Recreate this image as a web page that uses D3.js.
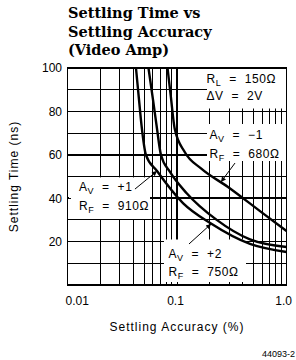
<!DOCTYPE html>
<html>
<head>
<meta charset="utf-8">
<script src="https://cdn.jsdelivr.net/npm/d3@7"></script>
<style>
  body { margin: 0; background: #fff; }
  text { font-family: "Liberation Sans", Arial, sans-serif; fill: #000; }
</style>
</head>
<body>
<div id="chart"></div>
<script>
var width = 296;
var height = 360;
var margin = {top: 68, left: 67.5, right: 9.5, bottom: 75};

// settling accuracy (%) vs settling time (ns)
var accAvPlus1  = [0.0422, 0.045, 0.0474, 0.0521, 0.0657, 0.114, 0.2044, 0.464, 1.0];
var timeAvPlus1 = [100, 85.3, 73.7, 59.9, 52.5, 37.6, 28.3, 18.9, 15.2];
var accAvPlus2  = [0.0549, 0.0604, 0.065, 0.0714, 0.0863, 0.1226, 0.2305, 0.464, 1.0];
var timeAvPlus2 = [100, 85.3, 73.7, 59.9, 52.1, 42.3, 30.0, 21.0, 17.5];
var accAvMinus1  = [0.0819, 0.0876, 0.0953, 0.1176, 0.1667, 0.292, 0.589, 1.0];
var timeAvMinus1 = [100, 87.4, 72.0, 61.3, 53.6, 45.2, 33.6, 24.9];

var xTicks = [0.01, 0.1, 1.0];
var xTickLabels = ["0.01", "0.1", "1.0"];
var yTicks = [20, 40, 60, 80, 100];

var titleLines = ["Settling Time vs", "Settling Accuracy", "(Video Amp)"];

var svg = d3.select("#chart")
  .append("svg")
  .attr("width", width)
  .attr("height", height);

var xScale = d3.scaleLog()
  .domain([0.01, 1])
  .range([margin.left, width - margin.right]);

var yScale = d3.scaleLinear()
  .domain([0, 100])
  .range([height - margin.bottom, margin.top]);

var x0 = xScale.range()[0], x1 = xScale.range()[1];
var y0 = yScale.range()[0], y1 = yScale.range()[1];

// title
svg.append("g").selectAll("text")
  .data(titleLines)
  .enter()
  .append("text")
    .attr("x", 68)
    .attr("y", function(d, i) { return 18 + i * 18.5; })
    .style("font-family", "'DejaVu Serif', serif")
    .style("font-weight", "bold")
    .style("font-size", "14.5px")
    .text(function(d) { return d; });

// grid
var grid = svg.append("g").attr("shape-rendering", "crispEdges").attr("stroke", "#000");
grid.selectAll(".vline")
  .data(xScale.ticks())
  .enter()
  .append("line")
    .attr("x1", function(d) { return xScale(d); })
    .attr("x2", function(d) { return xScale(d); })
    .attr("y1", y0).attr("y2", y1)
    .attr("stroke-width", function(d) { return Math.abs(d - 0.1) < 1e-9 ? 1.6 : 1; });
grid.selectAll(".hline")
  .data(yScale.ticks(10))
  .enter()
  .append("line")
    .attr("x1", x0).attr("x2", x1)
    .attr("y1", function(d) { return yScale(d); })
    .attr("y2", function(d) { return yScale(d); })
    .attr("stroke-width", function(d) { return d % 20 === 0 ? 1.6 : 1; });

// white boxes behind the notes
var boxes = [
  {x: 207, y: 68, w: 80, h: 40.5},
  {x: 207, y: 124, w: 80, h: 37},
  {x: 69, y: 177.4, w: 81, h: 41.6},
  {x: 164, y: 239.5, w: 82, h: 45.5}
];
svg.append("g").selectAll("rect")
  .data(boxes)
  .enter()
  .append("rect")
    .attr("x", function(d) { return d.x; })
    .attr("y", function(d) { return d.y; })
    .attr("width", function(d) { return d.w; })
    .attr("height", function(d) { return d.h; })
    .attr("fill", "#fff");

// frame + small inward ticks
var frame = svg.append("g").attr("shape-rendering", "crispEdges").attr("stroke", "#000");
frame.append("rect")
  .attr("x", x0).attr("y", y1)
  .attr("width", x1 - x0).attr("height", y0 - y1)
  .attr("fill", "none")
  .attr("stroke-width", 1.8);
frame.selectAll(".lt")
  .data(yScale.ticks(10))
  .enter()
  .append("line")
    .attr("x1", x0).attr("x2", x0 + 3)
    .attr("y1", function(d) { return yScale(d); })
    .attr("y2", function(d) { return yScale(d); });
frame.selectAll(".bt")
  .data(xScale.ticks())
  .enter()
  .append("line")
    .attr("x1", function(d) { return xScale(d); })
    .attr("x2", function(d) { return xScale(d); })
    .attr("y1", y0).attr("y2", y0 - 3);

// notes
var notes = [
  {x: 206.5, y: 83,    main: "R", sub: "L", rest: "  =  150\u03A9"},
  {x: 206.5, y: 99.5,  main: "\u0394V", sub: "", rest: "  =  2V"},
  {x: 209.5, y: 139,   main: "A", sub: "V", rest: "  =  \u22121"},
  {x: 209.5, y: 158,   main: "R", sub: "F", rest: "  =  680\u03A9"},
  {x: 79,    y: 191,   main: "A", sub: "V", rest: "  =  +1"},
  {x: 79,    y: 210,   main: "R", sub: "F", rest: "  =  910\u03A9"},
  {x: 168.5, y: 257.5, main: "A", sub: "V", rest: "  =  +2"},
  {x: 168.5, y: 276,   main: "R", sub: "F", rest: "  =  750\u03A9"}
];
notes.forEach(function(n) {
  var t = svg.append("text")
    .attr("x", n.x).attr("y", n.y)
    .style("font-size", "12px")
    .style("letter-spacing", "0.6px")
    .style("white-space", "pre");
  t.append("tspan").text(n.main);
  if (n.sub) {
    t.append("tspan").attr("dy", 3).style("font-size", "9px").text(n.sub);
    t.append("tspan").attr("dy", -3).text(n.rest);
  } else {
    t.append("tspan").text(n.rest);
  }
});

// arrows (data coords: from label to curve)
svg.append("defs").append("marker")
  .attr("id", "arrow")
  .attr("viewBox", "0 0 10 10")
  .attr("refX", 10).attr("refY", 5)
  .attr("markerWidth", 7).attr("markerHeight", 5)
  .attr("markerUnits", "userSpaceOnUse")
  .attr("orient", "auto")
  .append("path")
    .attr("d", "M0,0L10,5L0,10z");

var arrows = [
  {from: [0.0413, 44.2], to: [0.0657, 52.5]},
  {from: [0.3386, 56.2], to: [0.2523, 47.5]},
  {from: [0.1287, 18.9], to: [0.2044, 28.1]}
];
svg.append("g").selectAll("line")
  .data(arrows)
  .enter()
  .append("line")
    .attr("x1", function(d) { return xScale(d.from[0]); })
    .attr("y1", function(d) { return yScale(d.from[1]); })
    .attr("x2", function(d) { return xScale(d.to[0]); })
    .attr("y2", function(d) { return yScale(d.to[1]); })
    .attr("stroke", "#000")
    .attr("stroke-width", 1)
    .attr("marker-end", "url(#arrow)");

// curves
var series = [
  {acc: accAvPlus1, time: timeAvPlus1},
  {acc: accAvPlus2, time: timeAvPlus2},
  {acc: accAvMinus1, time: timeAvMinus1}
];
var line = d3.line()
  .x(function(d) { return xScale(d[0]); })
  .y(function(d) { return yScale(d[1]); })
  .curve(d3.curveMonotoneX);
svg.append("g").selectAll("path")
  .data(series)
  .enter()
  .append("path")
    .attr("d", function(s) { return line(d3.zip(s.acc, s.time)); })
    .attr("fill", "none")
    .attr("stroke", "#000")
    .attr("stroke-width", 2.4);

// axes labels
var yAxis = svg.append("g")
  .attr("transform", "translate(" + x0 + ",0)")
  .call(d3.axisLeft(yScale).tickValues(yTicks).tickSize(0).tickPadding(5.5));
yAxis.select(".domain").remove();
yAxis.selectAll("text").style("font-size", "12px").style("font-family", "'Liberation Sans', Arial, sans-serif");

var xAxis = svg.append("g")
  .attr("transform", "translate(0," + y0 + ")")
  .call(d3.axisBottom(xScale).tickValues(xTicks).tickSize(0).tickPadding(11.5)
    .tickFormat(function(d, i) { return xTickLabels[i]; }));
xAxis.select(".domain").remove();
xAxis.selectAll("text")
  .style("font-size", "12px")
  .style("font-family", "'Liberation Sans', Arial, sans-serif")
  .attr("text-anchor", function(d, i) { return i === 0 ? "start" : (i === xTicks.length - 1 ? "end" : "middle"); })
  .attr("x", function(d, i) { return i === 0 ? -2.5 : (i === xTicks.length - 1 ? 5 : -2); });

svg.append("text")
  .attr("x", (x0 + x1) / 2)
  .attr("y", 331)
  .attr("text-anchor", "middle")
  .style("font-size", "12px")
  .style("letter-spacing", "1px")
  .text("Settling Accuracy (%)");

svg.append("text")
  .attr("transform", "translate(18," + ((y0 + y1) / 2) + ") rotate(-90)")
  .attr("text-anchor", "middle")
  .style("font-size", "12px")
  .style("letter-spacing", "1px")
  .text("Settling Time (ns)");

svg.append("text")
  .attr("x", 262)
  .attr("y", 357)
  .style("font-size", "9px")
  .text("44093-2");
</script>
</body>
</html>
